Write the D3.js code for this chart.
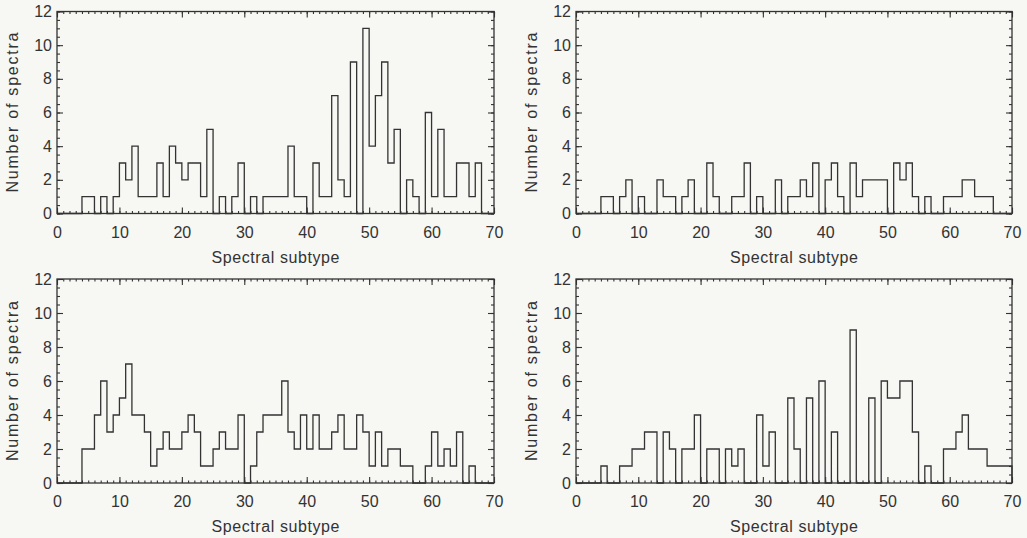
<!DOCTYPE html>
<html>
<head>
<meta charset="utf-8">
<script src="https://cdn.jsdelivr.net/npm/d3@7"></script>
<style>
  body { margin: 0; background: #f7f7f4; }
  svg { display: block; }
  text { font-family: "Liberation Sans", Arial, Helvetica, sans-serif; fill: #333; }
  .tick text { font-size: 16px; }
  .tick line { stroke: #333; stroke-width: 1.1; }
</style>
</head>
<body>
<svg id="chart" width="1027" height="538"></svg>
<script>
// spectral subtype bins (lower edge of each bin, width 1)
var subtypes = d3.range(0, 70);

// number of spectra per bin, one array per panel
var countsTopLeft = [
  0,0,0,0,1,1,0,1,0,1,
  3,2,4,1,1,1,3,1,4,3,
  2,3,3,1,5,0,1,0,1,3,
  0,1,0,1,1,1,1,4,1,1,
  0,3,1,1,7,2,1,9,0,11,
  4,7,9,3,5,0,2,1,0,6,
  1,5,1,1,3,3,1,3,0,0
];
var countsTopRight = [
  0,0,0,0,1,1,0,1,2,0,
  1,0,0,2,1,1,0,1,2,0,
  0,3,1,0,0,1,1,3,0,1,
  0,0,2,0,1,1,2,1,3,0,
  2,3,1,0,3,1,2,2,2,2,
  0,3,2,3,1,0,1,0,0,1,
  1,1,2,2,1,1,1,0,0,0
];
var countsBottomLeft = [
  0,0,0,0,2,2,4,6,3,4,
  5,7,4,4,3,1,2,3,2,2,
  3,4,3,1,1,2,3,2,2,4,
  0,1,3,4,4,4,6,3,2,4,
  2,4,2,2,3,4,2,2,4,3,
  1,3,1,2,2,1,1,0,0,1,
  3,1,2,1,3,0,1,0,0,0
];
var countsBottomRight = [
  0,0,0,0,1,0,0,1,1,2,
  2,3,3,0,3,2,0,2,2,4,
  0,2,2,0,2,1,2,0,0,4,
  1,3,0,0,5,2,0,5,0,6,
  0,3,0,0,9,0,0,5,0,6,
  5,5,6,6,3,0,1,0,0,2,
  2,3,4,2,2,2,1,1,1,1
];

var xDomain = [0, 70];
var yDomain = [0, 12];
var xTicks = [0, 10, 20, 30, 40, 50, 60, 70];
var yTicks = [0, 2, 4, 6, 8, 10, 12];
var xTitle = "Spectral subtype";
var yTitle = "Number of spectra";

// panel frames
var cols = [{left: 57, right: 494}, {left: 576, right: 1012}];
var rows = [{bottom: 213.5, top: 11.5}, {bottom: 483, top: 279}];

var panels = [
  {counts: countsTopLeft,     col: 0, row: 0},
  {counts: countsTopRight,    col: 1, row: 0},
  {counts: countsBottomLeft,  col: 0, row: 1},
  {counts: countsBottomRight, col: 1, row: 1}
];

var svg = d3.select("#chart");
var ink = "#333";

panels.forEach(function(p) {
  var c = cols[p.col], r = rows[p.row];
  var x = d3.scaleLinear().domain(xDomain).range([c.left, c.right]);
  var y = d3.scaleLinear().domain(yDomain).range([r.bottom, r.top]);
  var g = svg.append("g");

  // minor ticks (inward, all four sides)
  var xMinor = d3.range(xDomain[0], xDomain[1] + 1, 1);
  var yMinor = d3.range(yDomain[0], yDomain[1] + 0.5, 0.5);
  g.append("g").attr("transform", "translate(0," + r.bottom + ")")
    .call(d3.axisBottom(x).tickValues(xMinor).tickSize(-2.5).tickFormat(""));
  g.append("g").attr("transform", "translate(0," + r.top + ")")
    .call(d3.axisTop(x).tickValues(xMinor).tickSize(-2.5).tickFormat(""));
  g.append("g").attr("transform", "translate(" + c.left + ",0)")
    .call(d3.axisLeft(y).tickValues(yMinor).tickSize(-3).tickFormat(""));
  g.append("g").attr("transform", "translate(" + c.right + ",0)")
    .call(d3.axisRight(y).tickValues(yMinor).tickSize(-3).tickFormat(""));

  // major ticks + labels
  g.append("g").attr("transform", "translate(0," + r.bottom + ")")
    .call(d3.axisBottom(x).tickValues(xTicks).tickSizeInner(-6).tickSizeOuter(0).tickPadding(13));
  g.append("g").attr("transform", "translate(0," + r.top + ")")
    .call(d3.axisTop(x).tickValues(xTicks).tickSizeInner(-6).tickSizeOuter(0).tickFormat(""));
  g.append("g").attr("transform", "translate(" + c.left + ",0)")
    .call(d3.axisLeft(y).tickValues(yTicks).tickSizeInner(-6).tickSizeOuter(0).tickPadding(5));
  g.append("g").attr("transform", "translate(" + c.right + ",0)")
    .call(d3.axisRight(y).tickValues(yTicks).tickSizeInner(-6).tickSizeOuter(0).tickFormat(""));

  g.selectAll(".domain").remove();

  // frame
  g.append("rect")
    .attr("x", c.left).attr("y", r.top)
    .attr("width", c.right - c.left).attr("height", r.bottom - r.top)
    .attr("fill", "none").attr("stroke", ink).attr("stroke-width", 1.3);

  // histogram outline (steps)
  var pts = [[xDomain[0], 0]];
  subtypes.forEach(function(s, i) {
    pts.push([s, p.counts[i]]);
    pts.push([s + 1, p.counts[i]]);
  });
  pts.push([xDomain[1], 0]);

  g.append("path")
    .datum(pts)
    .attr("fill", "none")
    .attr("stroke", ink)
    .attr("stroke-width", 1.3)
    .attr("d", d3.line().x(function(d) { return x(d[0]); }).y(function(d) { return y(d[1]); }));

  // axis titles
  g.append("text")
    .attr("x", (c.left + c.right) / 2)
    .attr("y", r.bottom + 49)
    .attr("text-anchor", "middle")
    .attr("font-size", 16)
    .attr("textLength", 128).attr("lengthAdjust", "spacing")
    .text(xTitle);

  g.append("text")
    .attr("transform", "translate(" + (c.left - 45) + "," + ((r.top + r.bottom) / 2) + ") rotate(-90)")
    .attr("text-anchor", "middle")
    .attr("dy", "0.35em")
    .attr("font-size", 16)
    .attr("textLength", 160).attr("lengthAdjust", "spacing")
    .text(yTitle);
});
</script>
</body>
</html>
